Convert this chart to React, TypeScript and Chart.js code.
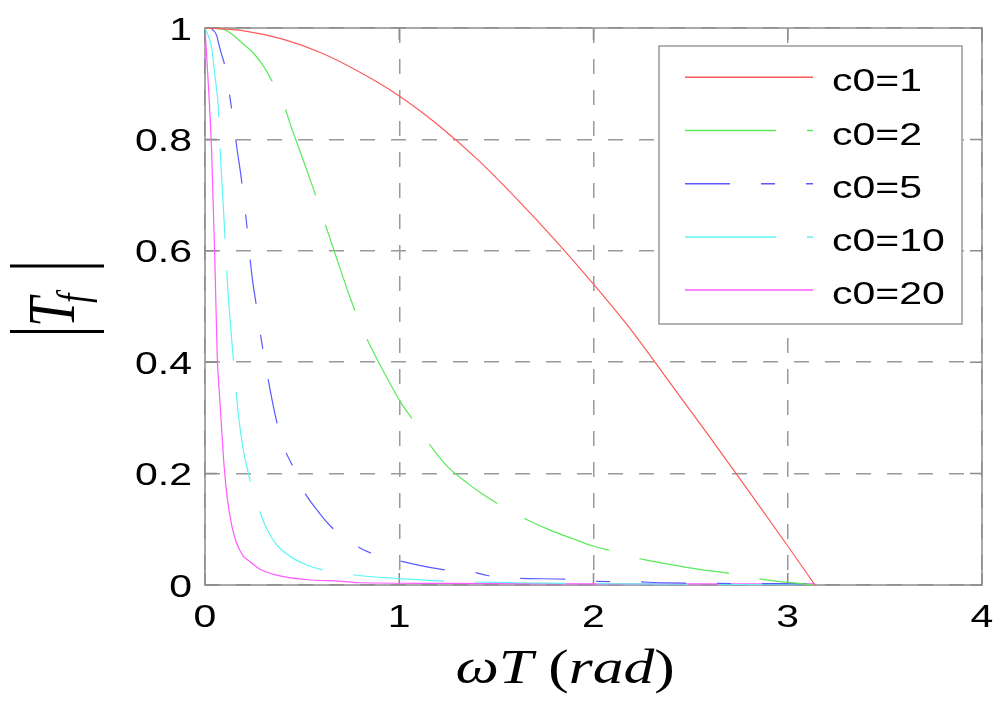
import { useEffect, useRef } from "react"
import { Chart, registerables } from "chart.js"
import type { Plugin } from "chart.js"

Chart.register(...registerables)

// legend entries and line styles
const seriesLabels = ["c0=1", "c0=2", "c0=5", "c0=10", "c0=20"]
const seriesColors = ["#ff5a5a", "#5aea5a", "#5a5aff", "#5ff5f5", "#ff5aff"]
const seriesDashes: number[][] = [[], [91, 31], [45, 31, 14, 31], [91, 31], []]

// axis ticks
const xTicks = [0, 1, 2, 3, 4]
const yTicks = [0, 0.2, 0.4, 0.6, 0.8, 1]
const xTickLabels = ["0", "1", "2", "3", "4"]
const yTickLabels = ["0", "0.2", "0.4", "0.6", "0.8", "1"]

// |Tf| (x = omega*T in rad)
const c01X = [0, 0.2, 0.4, 0.6, 0.8, 1.0, 1.2, 1.4, 1.6, 1.8, 2.0, 2.2, 2.4, 2.6, 2.8, 3.0, 3.14]
const c01Y = [1.0, 0.995, 0.98, 0.955, 0.92, 0.878, 0.826, 0.765, 0.695, 0.62, 0.54, 0.455, 0.36, 0.265, 0.168, 0.07, 0]

const c02X = [0, 0.07, 0.1, 0.146, 0.188, 0.257, 0.3, 0.343, 0.411, 0.446, 0.488, 0.531, 0.557, 0.605, 0.66, 0.745, 0.81, 0.857, 0.9, 0.943, 1.011, 1.105, 1.174, 1.25, 1.354, 1.426, 1.566, 1.671, 1.774, 1.894, 1.988, 2.108, 2.254, 2.391, 2.545, 2.717, 2.87, 2.99, 3.14]
const c02Y = [1, 0.999, 0.997, 0.987, 0.974, 0.952, 0.932, 0.906, 0.857, 0.82, 0.78, 0.738, 0.712, 0.662, 0.605, 0.518, 0.46, 0.425, 0.396, 0.368, 0.326, 0.28, 0.244, 0.212, 0.182, 0.164, 0.134, 0.115, 0.099, 0.083, 0.071, 0.06, 0.046, 0.037, 0.028, 0.02, 0.01, 0.005, 0]

const c05X = [0, 0.01, 0.06, 0.068, 0.085, 0.1, 0.132, 0.166, 0.183, 0.214, 0.24, 0.265, 0.29, 0.33, 0.368, 0.415, 0.449, 0.51, 0.58, 0.648, 0.78, 0.843, 0.994, 1.217, 1.38, 1.455, 1.615, 1.885, 1.945, 2.19, 2.36, 3.14]
const c05Y = [1, 1, 0.987, 0.975, 0.953, 0.935, 0.867, 0.78, 0.74, 0.65, 0.56, 0.5, 0.44, 0.36, 0.295, 0.24, 0.215, 0.168, 0.133, 0.105, 0.07, 0.059, 0.044, 0.028, 0.023, 0.017, 0.012, 0.01, 0.007, 0.006, 0.004, 0.002]

const c10X = [0, 0.034, 0.051, 0.068, 0.082, 0.099, 0.116, 0.134, 0.151, 0.166, 0.183, 0.2, 0.217, 0.231, 0.274, 0.3, 0.33, 0.369, 0.42, 0.463, 0.531, 0.608, 0.77, 0.98, 1.24, 1.6, 2.2, 3.14]
const c10Y = [1, 0.965, 0.914, 0.86, 0.755, 0.65, 0.54, 0.455, 0.385, 0.325, 0.275, 0.237, 0.21, 0.19, 0.14, 0.115, 0.093, 0.072, 0.056, 0.046, 0.035, 0.027, 0.018, 0.012, 0.007, 0.004, 0.002, 0]

const c20X = [0, 0.012, 0.034, 0.051, 0.063, 0.074, 0.084, 0.098, 0.115, 0.137, 0.163, 0.197, 0.22, 0.29, 0.42, 0.55, 0.69, 0.8, 1.2, 2.0, 3.14]
const c20Y = [1, 0.93, 0.78, 0.58, 0.41, 0.345, 0.29, 0.215, 0.155, 0.108, 0.075, 0.052, 0.045, 0.027, 0.014, 0.009, 0.007, 0.004, 0.003, 0.002, 0.002]

const seriesX = [c01X, c02X, c05X, c10X, c20X]
const seriesY = [c01Y, c02Y, c05Y, c10Y, c20Y]

// the reference figure is stretched sideways, so text is too
const STRETCH = 1.28
const TICK_FONT = '32px "Liberation Sans", Arial, sans-serif'
const SERIF_IT = 'italic 48px "Liberation Serif", serif'
const SERIF_UP = '48px "Liberation Serif", serif'
const BOX_COLOR = "#8c8c8c"

// x title pieces: italic letters, upright parentheses
const xTitleParts: [string, string][] = [
  ["\u03C9T", SERIF_IT],
  [" (", SERIF_UP],
  ["rad", SERIF_IT],
  [")", SERIF_UP],
]

function stretchedText(
  ctx: CanvasRenderingContext2D,
  text: string,
  x: number,
  y: number,
  font: string,
  align: CanvasTextAlign
) {
  ctx.save()
  ctx.translate(x, y)
  ctx.scale(STRETCH, 1)
  ctx.font = font
  ctx.textAlign = align
  ctx.textBaseline = "alphabetic"
  ctx.fillStyle = "#000"
  ctx.fillText(text, 0, 0)
  ctx.restore()
}

function labelFor(values: number[], labels: string[], v: number) {
  const i = values.findIndex((t) => Math.abs(t - v) < 1e-6)
  return i >= 0 ? labels[i] : String(v)
}

const matlabFrame: Plugin<"line"> = {
  id: "matlabFrame",
  beforeDatasetsDraw(chart) {
    const { ctx, chartArea: a, scales } = chart
    ctx.save()
    ctx.strokeStyle = BOX_COLOR
    ctx.lineWidth = 1.5
    ctx.strokeRect(a.left, a.top, a.right - a.left, a.bottom - a.top)
    ctx.beginPath()
    scales.x.ticks.forEach((t) => {
      const px = scales.x.getPixelForValue(t.value)
      ctx.moveTo(px, a.bottom)
      ctx.lineTo(px, a.bottom - 12)
      ctx.moveTo(px, a.top)
      ctx.lineTo(px, a.top + 12)
    })
    scales.y.ticks.forEach((t) => {
      const py = scales.y.getPixelForValue(t.value)
      ctx.moveTo(a.left, py)
      ctx.lineTo(a.left + 12, py)
      ctx.moveTo(a.right, py)
      ctx.lineTo(a.right - 12, py)
    })
    ctx.stroke()
    ctx.restore()
  },
  afterDraw(chart) {
    const { ctx, chartArea: a, scales } = chart

    // tick labels
    scales.x.ticks.forEach((t) => {
      stretchedText(ctx, labelFor(xTicks, xTickLabels, t.value), scales.x.getPixelForValue(t.value), a.bottom + 42, TICK_FONT, "center")
    })
    scales.y.ticks.forEach((t) => {
      stretchedText(ctx, labelFor(yTicks, yTickLabels, t.value), a.left - 13, scales.y.getPixelForValue(t.value) + 11.5, TICK_FONT, "right")
    })

    // x title, centred under the axes
    ctx.save()
    const widths = xTitleParts.map(([s, f]) => {
      ctx.font = f
      return ctx.measureText(s).width * STRETCH
    })
    const total = widths.reduce((p, w) => p + w, 0)
    let tx = 565 - total / 2
    xTitleParts.forEach(([s, f], i) => {
      stretchedText(ctx, s, tx, a.bottom + 98, f, "left")
      tx += widths[i]
    })
    ctx.restore()

    // y title |T_f|, rotated
    ctx.save()
    ctx.strokeStyle = "#000"
    ctx.lineWidth = 3
    ctx.beginPath()
    ctx.moveTo(10, 331.5)
    ctx.lineTo(104, 331.5)
    ctx.moveTo(10, 266)
    ctx.lineTo(104, 266)
    ctx.stroke()
    ctx.fillStyle = "#000"
    ctx.translate(74, 327)
    ctx.scale(STRETCH, 1)
    ctx.rotate(-Math.PI / 2)
    ctx.font = 'italic 53px "Liberation Serif", serif'
    ctx.textAlign = "left"
    ctx.textBaseline = "alphabetic"
    ctx.fillText("T", 0, 0)
    ctx.font = 'italic 34px "Liberation Serif", serif'
    ctx.fillText("f", 24, 11)
    ctx.restore()

    // legend
    const lx = 659
    const ly = 46
    ctx.save()
    ctx.fillStyle = "#fff"
    ctx.fillRect(lx, ly, 303, 278)
    ctx.strokeStyle = "#9a9a9a"
    ctx.lineWidth = 1.5
    ctx.strokeRect(lx, ly, 303, 278)
    chart.data.datasets.forEach((ds, i) => {
      const rowY = 77.3 + i * 53.2
      ctx.save()
      ctx.strokeStyle = ds.borderColor as string
      ctx.lineWidth = 1.5
      ctx.setLineDash(seriesDashes[i])
      ctx.beginPath()
      ctx.moveTo(685, rowY)
      ctx.lineTo(813, rowY)
      ctx.stroke()
      ctx.restore()
      stretchedText(ctx, ds.label ?? "", 832, rowY + 14, TICK_FONT, "left")
    })
    ctx.restore()
  },
}

export default function App() {
  const chartRef = useRef<HTMLCanvasElement>(null)
  const chartInstance = useRef<Chart<"line"> | null>(null)

  useEffect(() => {
    if (!chartRef.current) return
    if (chartInstance.current) {
      chartInstance.current.destroy()
    }
    const ctx = chartRef.current.getContext("2d")
    if (!ctx) return

    chartInstance.current = new Chart(ctx, {
      type: "line",
      data: {
        datasets: seriesLabels.map((label, i) => ({
          label,
          data: seriesX[i].map((x, j) => ({ x, y: seriesY[i][j] })),
          borderColor: seriesColors[i],
          backgroundColor: seriesColors[i],
          borderWidth: 1.2,
          borderDash: seriesDashes[i],
          pointRadius: 0,
          fill: false,
          cubicInterpolationMode: "monotone" as const,
        })),
      },
      options: {
        responsive: true,
        maintainAspectRatio: false,
        animation: false,
        layout: { padding: { left: 205, top: 28, right: 18, bottom: 116 } },
        plugins: {
          legend: { display: false },
          tooltip: { enabled: false },
        },
        scales: {
          x: {
            type: "linear",
            min: 0,
            max: 4,
            ticks: { stepSize: 1, display: false },
            grid: { color: "#9a9a9a", lineWidth: 1.5, drawTicks: false },
            border: { display: false, dash: [15, 16] },
          },
          y: {
            type: "linear",
            min: 0,
            max: 1,
            ticks: { stepSize: 0.2, display: false },
            grid: { color: "#9a9a9a", lineWidth: 1.5, drawTicks: false },
            border: { display: false, dash: [15, 16] },
          },
        },
      },
      plugins: [matlabFrame],
    })

    return () => {
      if (chartInstance.current) {
        chartInstance.current.destroy()
        chartInstance.current = null
      }
    }
  }, [])

  return (
    <div style={{ position: "fixed", left: 0, top: 0, width: 1000, height: 701, background: "#fff" }}>
      <canvas ref={chartRef} />
    </div>
  )
}
